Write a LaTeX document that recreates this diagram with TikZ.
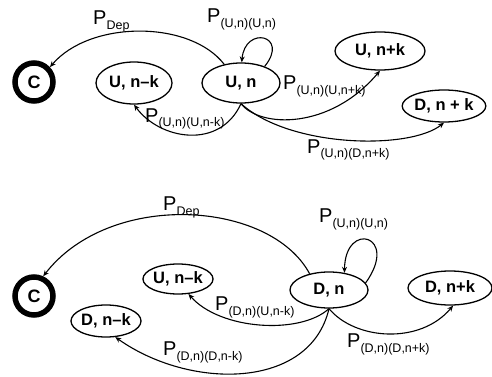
\documentclass[tikz,border=0pt]{standalone}
\usepackage{fontspec}
\setmainfont{Liberation Sans}
\usetikzlibrary{shapes.geometric,arrows.meta}
\newcommand{\plab}[1]{{\fontsize{20}{20}\selectfont P}{\fontsize{12.5}{12.5}\selectfont\raisebox{-5pt}{#1}}}
\begin{document}
\begin{tikzpicture}[x=1pt,y=-1pt,
  st/.style={ellipse,draw,line width=1.3pt,inner sep=0pt,font=\fontsize{16.5}{16.5}\selectfont\bfseries},
  absorb/.style={circle,draw,line width=5.5pt,minimum size=38pt,inner sep=0pt,font=\fontsize{18}{18}\selectfont\bfseries},
  tr/.style={line width=1.1pt,-{Stealth[length=6pt,width=5pt]}},
  lab/.style={anchor=base west,inner sep=0pt}]
\useasboundingbox (0,0) rectangle (492,377);
% top panel
\node[absorb] (c1) at (34,82) {C};
\node[st,minimum width=76pt,minimum height=42pt] (unk1) at (134,83) {U, n–k};
\node[st,minimum width=78pt,minimum height=40pt] (un1) at (241,83) {U, n};
\node[st,minimum width=90pt,minimum height=38pt] (unpk1) at (380,51) {U, n+k};
\node[st,minimum width=76pt,minimum height=32pt] (dnpk1) at (444,106) {D, n + k};
\draw[tr] (un1.132) .. controls (190,20) and (90,20) .. (c1.43);
\draw[tr] (un1.35) .. controls (290,35) and (245,25) .. (un1.88);
\draw[tr] (un1.south) .. controls (220,150) and (160,140) .. (unk1.south);
\draw[tr] (un1.south) .. controls (260,128) and (330,130) .. (unpk1.south);
\draw[tr] (un1.south) .. controls (290,148) and (410,150) .. (dnpk1.south);
\node[lab] (l1) at (93,25) {\plab{Dep}};
\node[lab] (l2) at (207,23) {\plab{(U,n)(U,n)}};
\node[lab] (l3) at (145,122) {\plab{(U,n)(U,n-k)}};
\node[lab] (l4) at (283,90) {\plab{(U,n)(U,n+k)}};
\node[lab] (l5) at (307,153) {\plab{(U,n)(D,n+k)}};
% bottom panel
\node[absorb] (c2) at (34,296) {C};
\node[st,minimum width=70pt,minimum height=30pt] (unk2) at (178,279) {U, n–k};
\node[st,minimum width=68pt,minimum height=32pt] (dnk2) at (106,321) {D, n–k};
\node[st,minimum width=78pt,minimum height=36pt] (dn2) at (329,290) {D, n};
\node[st,minimum width=84pt,minimum height=34pt] (dnpk2) at (450,288) {D, n+k};
\draw[tr] (dn2.140) .. controls (270,200) and (110,190) .. (c2.65);
\draw[tr] (dn2.11) .. controls (400,235) and (345,220) .. (dn2.48);
\draw[tr] (dn2.south) .. controls (300,335) and (220,330) .. (unk2.-55);
\draw[tr] (dn2.south) .. controls (310,390) and (190,390) .. (dnk2.-60);
\draw[tr] (dn2.south) .. controls (355,340) and (420,345) .. (dnpk2.-80);
\node[lab] (l6) at (163,210) {\plab{Dep}};
\node[lab] (l7) at (319,222) {\plab{(U,n)(U,n)}};
\node[lab] (l8) at (215,310) {\plab{(D,n)(U,n-k)}};
\node[lab] (l9) at (163,355) {\plab{(D,n)(D,n-k)}};
\node[lab] (l10) at (347,347) {\plab{(D,n)(D,n+k)}};
\end{tikzpicture}
\end{document}
